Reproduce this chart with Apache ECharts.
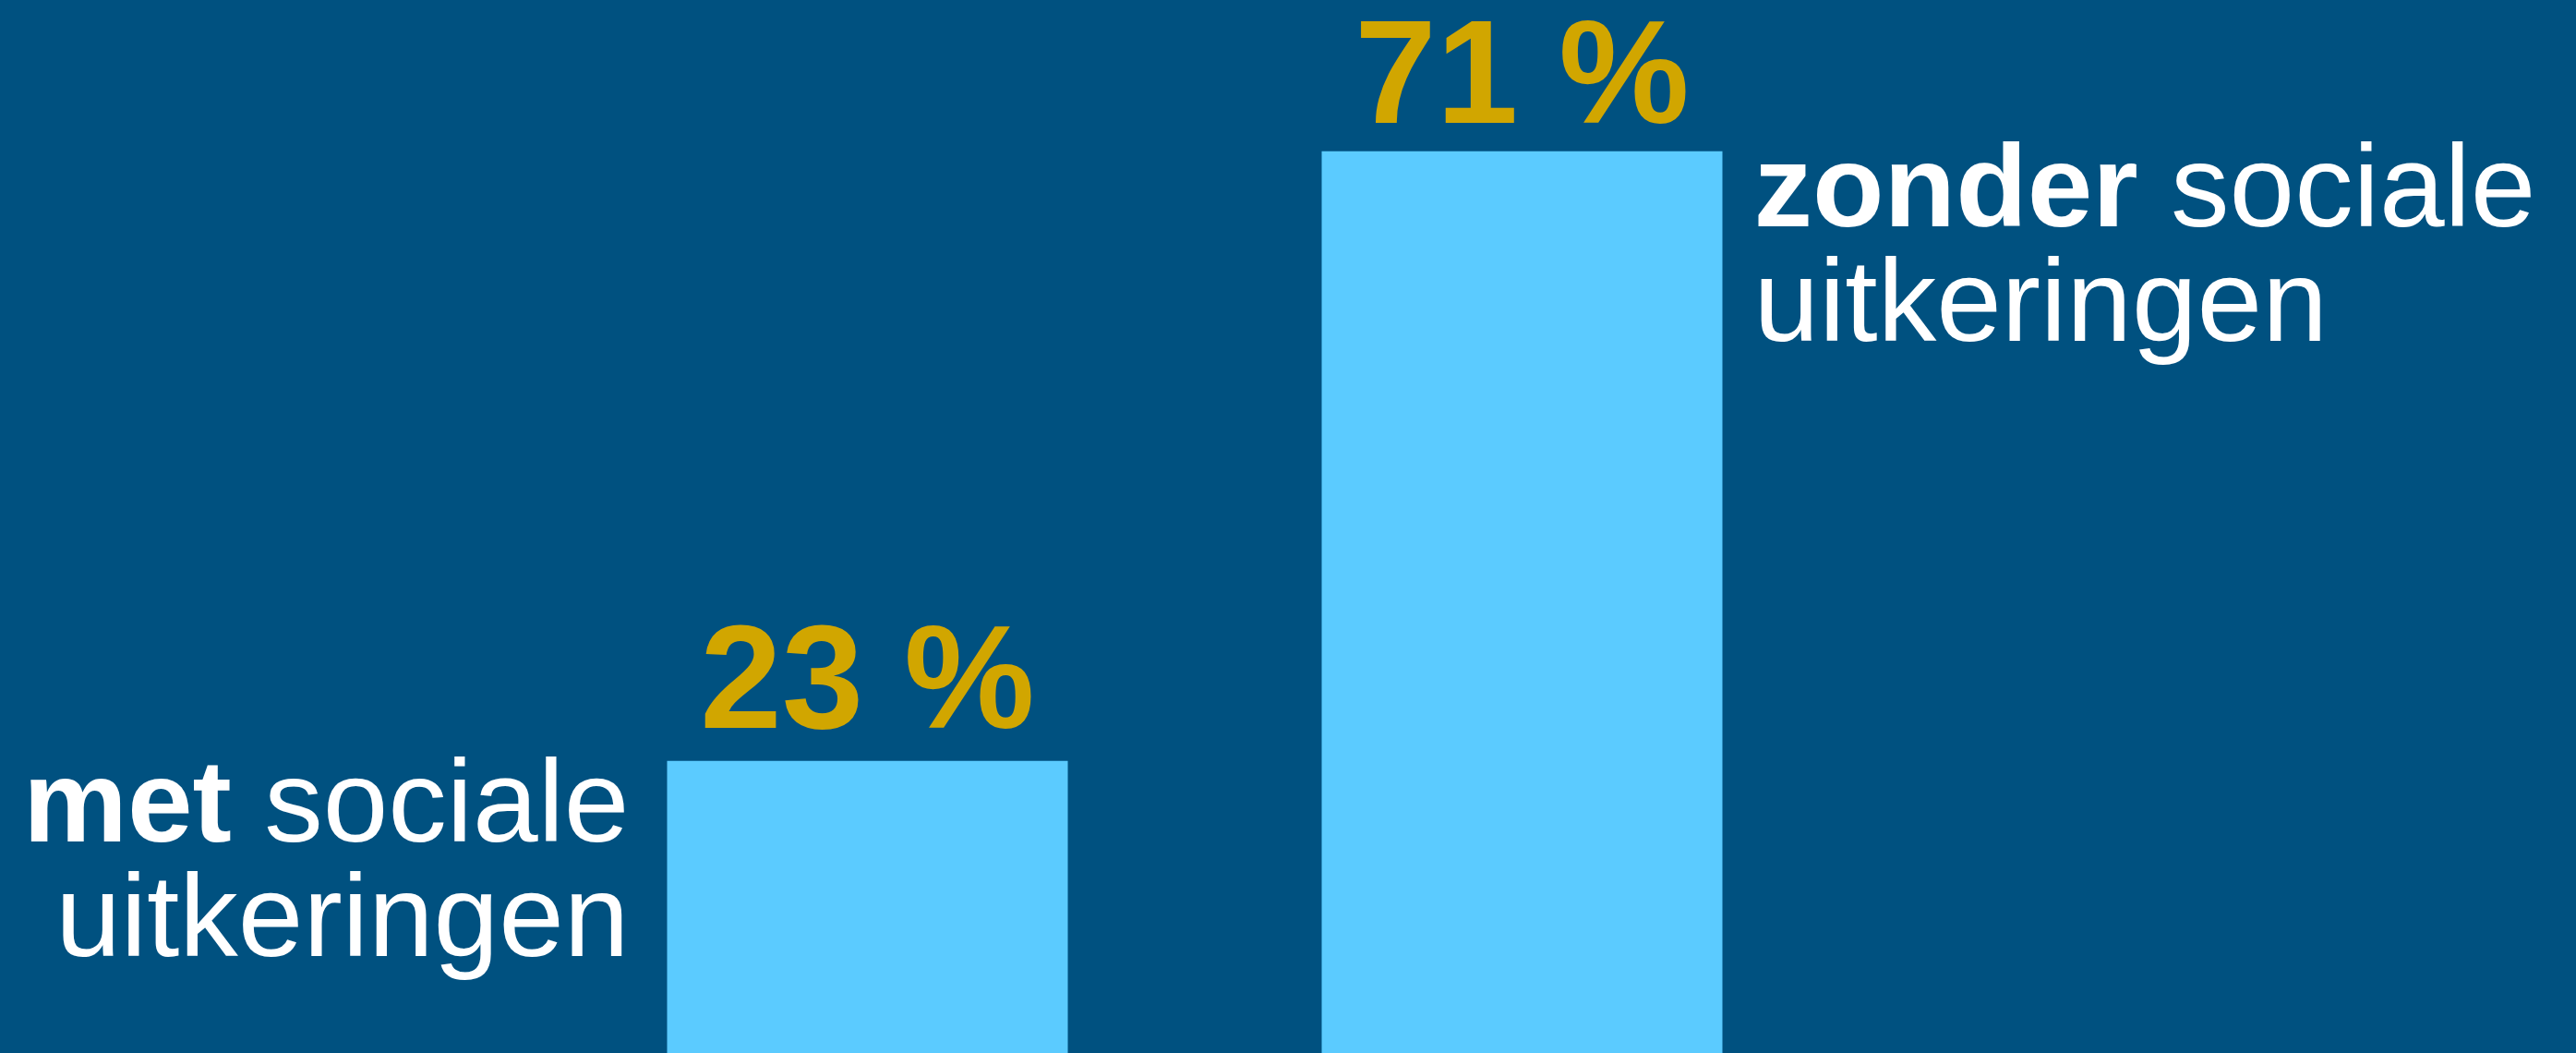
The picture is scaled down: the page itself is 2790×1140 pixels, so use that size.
<!DOCTYPE html>
<html>
<head>
<meta charset="utf-8">
<script src="https://cdn.jsdelivr.net/npm/echarts@6/dist/echarts.min.js"></script>
<style>
  html, body { margin: 0; padding: 0; background: #005180; }
  #chart { width: 2790px; height: 1140px; }
</style>
</head>
<body>
<div id="chart"></div>
<script>
// data
const categories = ['met', 'zonder']
const values = [23, 71]
const boldWords = ['met', 'zonder']
const restWords = ['sociale', 'uitkeringen']

const FONT = 'Liberation Sans'
const BAR_W = 434

const chart = echarts.init(document.getElementById('chart'))

// percent labels sit a touch closer on the tall bar
const barData = values.map((v, i) => ({
  value: v,
  label: { distance: i === 0 ? 0 : -5 },
}))

const nameLabels = categories.map((c, i) => {
  const left = i === 0
  return {
    value: values[i],
    label: {
      show: true,
      position: left ? [-41, -10] : [BAR_W + 34, -16],
      align: left ? 'right' : 'left',
      verticalAlign: 'top',
      formatter: `{b|${boldWords[i]}\u00a0}{r|${restWords[0]}}\n{r|${restWords[1]}}`,
      rich: {
        b: { fontFamily: FONT, fontSize: 127, fontWeight: 'bold', color: '#fff', lineHeight: 124 },
        r: { fontFamily: FONT, fontSize: 127, color: '#fff', lineHeight: 124 },
      },
    },
  }
})

chart.setOption({
  backgroundColor: '#005180',
  animation: false,
  grid: { left: 585, right: 787, top: 40, bottom: 0 },
  xAxis: {
    type: 'category',
    data: categories,
    show: false,
  },
  yAxis: {
    type: 'value',
    min: 0,
    max: 80,
    show: false,
    splitLine: { show: false },
  },
  series: [
    {
      type: 'bar',
      data: barData,
      barWidth: BAR_W,
      itemStyle: { color: '#5BCBFF' },
      label: {
        show: true,
        position: 'top',
        formatter: '{c} %',
        fontFamily: FONT,
        fontWeight: 'bold',
        fontSize: 159,
        color: '#D1A600',
      },
      z: 2,
    },
    {
      type: 'bar',
      data: nameLabels,
      barWidth: BAR_W,
      barGap: '-100%',
      itemStyle: { color: 'transparent' },
      silent: true,
      z: 3,
    },
  ],
})
</script>
</body>
</html>
